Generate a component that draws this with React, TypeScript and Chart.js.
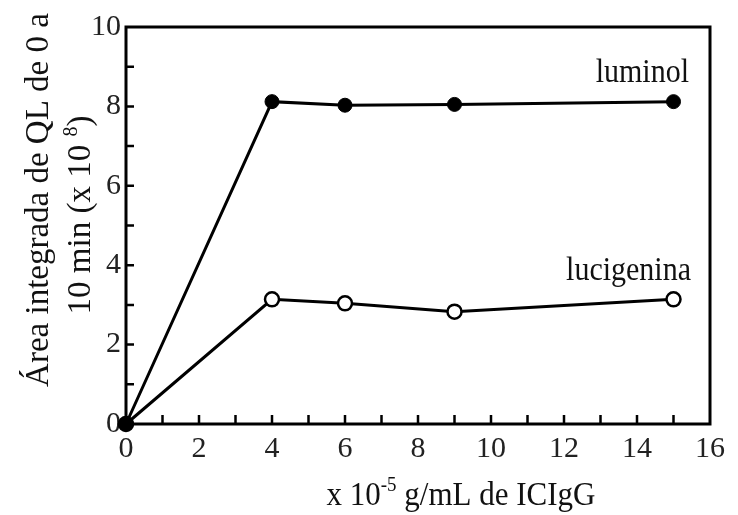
import React, { useEffect, useRef } from "react";
import { Chart, registerables } from "chart.js";

Chart.register(...registerables);

const concentrations = [0, 4, 6, 9, 15];
const luminol = [0, 8.12, 8.03, 8.05, 8.12];
const lucigenina = [0, 3.14, 3.04, 2.83, 3.14];
const xTickValues = [0, 2, 4, 6, 8, 10, 12, 14, 16];
const yTickValues = [0, 2, 4, 6, 8, 10];
const minorStep = 1;

const FONT = '"Liberation Serif", "Times New Roman", serif';

type Part = { text: string; sup?: boolean };

function richWidth(ctx: CanvasRenderingContext2D, parts: Part[], size: number) {
  let w = 0;
  for (const p of parts) {
    ctx.font = `${p.sup ? Math.round(size * 0.6) : size}px ${FONT}`;
    w += ctx.measureText(p.text).width;
  }
  return w;
}

function drawRich(ctx: CanvasRenderingContext2D, parts: Part[], size: number, cx: number, baseline: number) {
  const total = richWidth(ctx, parts, size);
  let x = cx - total / 2;
  ctx.textAlign = "left";
  ctx.textBaseline = "alphabetic";
  for (const p of parts) {
    const s = p.sup ? Math.round(size * 0.6) : size;
    ctx.font = `${s}px ${FONT}`;
    ctx.fillText(p.text, x, p.sup ? baseline - size * 0.4 : baseline);
    x += ctx.measureText(p.text).width;
  }
}

function stretched(ctx: CanvasRenderingContext2D, x: number, y: number, sy: number, fn: () => void) {
  ctx.save();
  ctx.translate(x, y);
  ctx.scale(1, sy);
  fn();
  ctx.restore();
}

const decorPlugin = {
  id: "decor",
  afterDraw(chart: any) {
    const { ctx, chartArea, scales } = chart;
    const xs = scales.x;
    const ys = scales.y;
    ctx.save();
    ctx.strokeStyle = "#000";
    ctx.fillStyle = "#111";
    ctx.lineWidth = 3;
    ctx.strokeRect(chartArea.left, chartArea.top, chartArea.right - chartArea.left, chartArea.bottom - chartArea.top);
    // inward tick marks
    ctx.lineWidth = 2.5;
    ctx.beginPath();
    for (let v = xs.min + minorStep; v < xs.max; v += minorStep) {
      const px = xs.getPixelForValue(v);
      ctx.moveTo(px, chartArea.bottom);
      ctx.lineTo(px, chartArea.bottom - 9);
    }
    for (let v = ys.min + minorStep; v < ys.max; v += minorStep) {
      const py = ys.getPixelForValue(v);
      ctx.moveTo(chartArea.left, py);
      ctx.lineTo(chartArea.left + 8, py);
    }
    ctx.stroke();

    // series labels
    ctx.textAlign = "right";
    ctx.textBaseline = "alphabetic";
    stretched(ctx, 689, 82, 1.12, () => {
      ctx.font = `30px ${FONT}`;
      ctx.fillText("luminol", 0, 0);
    });
    stretched(ctx, 691, 280, 1.12, () => {
      ctx.font = `30px ${FONT}`;
      ctx.fillText("lucigenina", 0, 0);
    });

    // x title
    stretched(ctx, 461, 505, 1.12, () => {
      drawRich(ctx, [
        { text: "x 10" },
        { text: "-5", sup: true },
        { text: " g/mL de ICIgG" },
      ], 31, 0, 0);
    });

    // y title (rotated)
    ctx.save();
    ctx.translate(48, 200);
    ctx.rotate(-Math.PI / 2);
    drawRich(ctx, [{ text: "Área integrada de QL de 0 a" }], 33, 0, 0);
    ctx.restore();
    ctx.save();
    ctx.translate(90, 215);
    ctx.rotate(-Math.PI / 2);
    drawRich(ctx, [
      { text: "10 min (x 10 " },
      { text: "8", sup: true },
      { text: ")" },
    ], 33, 0, 0);
    ctx.restore();
    ctx.restore();
  },
};

export default function App() {
  const ref = useRef<HTMLCanvasElement>(null);
  useEffect(() => {
    document.body.style.margin = "0";
    const chart = new Chart(ref.current!, {
      type: "line",
      data: {
        datasets: [
          {
            label: "luminol",
            data: concentrations.map((x, i) => ({ x, y: luminol[i] })),
            borderColor: "#000",
            backgroundColor: "#000",
            borderWidth: 3,
            pointRadius: 7,
            pointBorderWidth: 1,
            pointBorderColor: "#000",
            pointBackgroundColor: "#000",
            clip: false,
          },
          {
            label: "lucigenina",
            data: concentrations.map((x, i) => ({ x, y: lucigenina[i] })),
            borderColor: "#000",
            backgroundColor: "#fff",
            borderWidth: 3,
            pointRadius: 7,
            pointBorderWidth: 2.5,
            pointBorderColor: "#000",
            pointBackgroundColor: "#fff",
            clip: false,
          },
        ],
      },
      options: {
        animation: false,
        responsive: false,
        layout: { padding: { top: 27, right: 28, left: 0, bottom: 0 } },
        plugins: { legend: { display: false }, tooltip: { enabled: false } },
        scales: {
          x: {
            type: "linear",
            min: 0,
            max: 16,
            afterBuildTicks: (s: any) => {
              s.ticks = xTickValues.map((v) => ({ value: v }));
            },
            afterFit: (s: any) => {
              s.height = 91;
            },
            grid: { display: false, drawTicks: false },
            border: { display: false },
            ticks: {
              color: "#222",
              padding: 7,
              font: { family: FONT, size: 30 },
              maxRotation: 0,
              autoSkip: false,
            },
          },
          y: {
            type: "linear",
            min: 0,
            max: 10,
            afterBuildTicks: (s: any) => {
              s.ticks = yTickValues.map((v) => ({ value: v }));
            },
            afterFit: (s: any) => {
              s.width = 126;
            },
            grid: { display: false, drawTicks: false },
            border: { display: false },
            ticks: {
              color: "#222",
              padding: 5,
              font: { family: FONT, size: 30 },
              autoSkip: false,
            },
          },
        },
      },
      plugins: [decorPlugin],
    } as any);
    return () => chart.destroy();
  }, []);
  return (
    <div style={{ width: 738, height: 515 }}>
      <canvas ref={ref} width={738} height={515} style={{ display: "block" }} />
    </div>
  );
}
